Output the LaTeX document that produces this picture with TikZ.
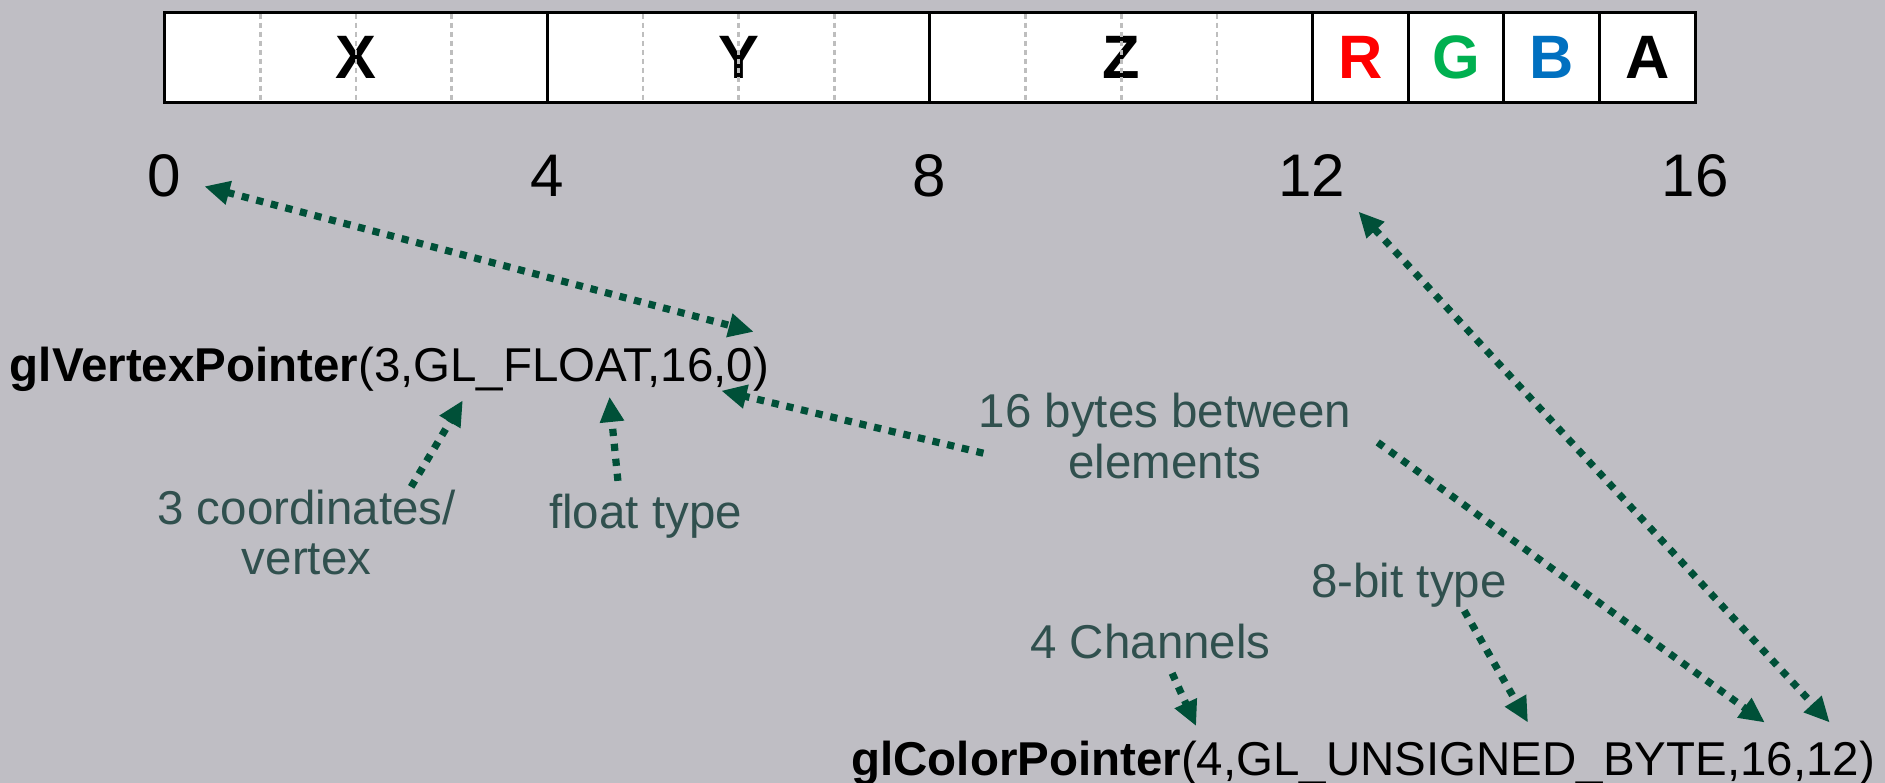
\documentclass[tikz,border=0pt]{standalone}
\usepackage{fontspec}
\setmainfont{Liberation Sans}
\usetikzlibrary{arrows.meta}
\definecolor{bg}{RGB}{191,190,196}
\definecolor{arrowgreen}{RGB}{0,80,56}
\definecolor{labelcol}{RGB}{48,80,78}
\definecolor{rcol}{RGB}{255,0,0}
\definecolor{gcol}{RGB}{0,176,80}
\definecolor{bcol}{RGB}{0,112,192}
\definecolor{divgray}{RGB}{190,190,190}
\begin{document}
\begin{tikzpicture}[x=1pt,y=-1pt,
  cellbox/.style={draw=black,line width=2.5pt,fill=white,minimum height=75pt,inner sep=0pt,outer sep=0pt,anchor=north west,font=\fontsize{51}{51}\selectfont\bfseries},
  divline/.style={draw=divgray,line width=2.2pt,dash pattern=on 4.5pt off 3pt},
  numlabel/.style={font=\fontsize{50}{50}\selectfont,inner sep=0pt},
  codetext/.style={font=\fontsize{39.5}{42}\selectfont,inner sep=0pt},
  note/.style={font=\fontsize{39.5}{42}\selectfont,text=labelcol,inner sep=0pt,align=center},
  dotarrow/.style={draw=arrowgreen,line width=6pt,dash pattern=on 6pt off 6.5pt,-{Triangle[length=21pt,width=19pt]}},
  dotboth/.style={dotarrow,{Triangle[length=21pt,width=19pt]}-{Triangle[length=21pt,width=19pt]}}
]
\useasboundingbox (0,0) rectangle (1568,651);
\fill[bg] (0,0) rectangle (1568,651);

% byte bar
\node[cellbox,minimum width=318.25pt] (cx) at (137,10) {X};
\node[cellbox,minimum width=318.25pt] (cy) at (455.25,10) {Y};
\node[cellbox,minimum width=318.25pt] (cz) at (773.5,10) {Z};
\node[cellbox,minimum width=79.56pt,text=rcol] (cr) at (1091.75,10) {R};
\node[cellbox,minimum width=79.56pt,text=gcol] (cg) at (1171.31,10) {G};
\node[cellbox,minimum width=79.56pt,text=bcol] (cb) at (1250.87,10) {B};
\node[cellbox,minimum width=79.56pt] (ca) at (1330.44,10) {A};
\foreach \i in {1,2,3,5,6,7,9,10,11}{
  \draw[divline] (137+\i*79.5625,11.5) -- (137+\i*79.5625,83.5);
}

% offsets
\node[numlabel] (n0) at (137,146) {0};
\node[numlabel] (n4) at (455,146) {4};
\node[numlabel] (n8) at (773,146) {8};
\node[numlabel] (n12) at (1091,146) {12};
\node[numlabel] (n16) at (1410,146) {16};

% code lines
\node[codetext,anchor=base west] (vtx) at (8,317) {\textbf{glVertexPointer}(3,GL\_FLOAT,16,0)};
\node[codetext,anchor=base east] (col) at (1560,645) {\textbf{glColorPointer}(4,GL\_UNSIGNED\_BYTE,16,12)};

% notes
\node[note,anchor=base] (coords) at (255,478) {3 coordinates/\\vertex};
\node[note,anchor=base] (ftype) at (537,440) {float type};
\node[note,anchor=base] (stride) at (969,398) {16 bytes between\\elements};
\node[note,anchor=base] (btype) at (1172,497) {8-bit type};
\node[note,anchor=base] (chan) at (957,548) {4 Channels};

% arrow end points
\coordinate (a1s) at (170,155);
\coordinate (a1e) at (627,276);
\coordinate (a2s) at (818,377);
\coordinate (a2e) at (600,325);
\coordinate (a3s) at (342,405);
\coordinate (a3e) at (385,333);
\coordinate (a4s) at (514,400);
\coordinate (a4e) at (507,330);
\coordinate (a5s) at (1146,368);
\coordinate (a5e) at (1468,601);
\coordinate (a6s) at (1130,176);
\coordinate (a6e) at (1522,601);
\coordinate (a7s) at (975,560);
\coordinate (a7e) at (995,604);
\coordinate (a8s) at (1218,508);
\coordinate (a8e) at (1271,601);

\draw[dotboth] (a1s) -- (a1e);
\draw[dotarrow] (a2s) -- (a2e);
\draw[dotarrow] (a3s) -- (a3e);
\draw[dotarrow] (a4s) -- (a4e);
\draw[dotarrow] (a5s) -- (a5e);
\draw[dotboth] (a6s) -- (a6e);
\draw[dotarrow] (a7s) -- (a7e);
\draw[dotarrow] (a8s) -- (a8e);
\end{tikzpicture}
\end{document}
